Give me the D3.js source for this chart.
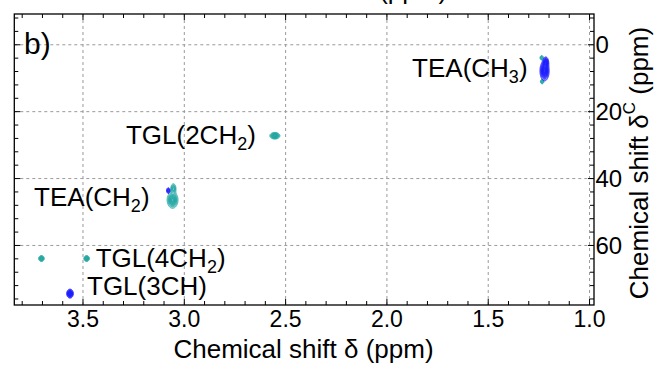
<!DOCTYPE html>
<html>
<head>
<meta charset="utf-8">
<script src="https://cdn.jsdelivr.net/npm/d3@7"></script>
<style>
  html, body { margin: 0; padding: 0; background: #fff; }
  svg { display: block; }
  text { font-family: "Liberation Sans", Arial, Helvetica, sans-serif; fill: #000; }
</style>
</head>
<body>
<svg id="chart" width="654" height="367"></svg>
<script>
// ---- cross peaks of the 1H-13C HSQC spectrum (ppm) ----
// phase: "pos" = CH / CH3 (blue), "neg" = CH2 (teal)
const peakName  = ["TEA(CH3)", "TEA(CH3) a", "TEA(CH3) b", "TEA(CH3) c",
                   "TGL(2CH2)", "TEA(CH2)", "TEA(CH2) tail", "TEA(CH2) d",
                   "TGL(4CH2) a", "TGL(4CH2) b", "TGL(3CH)"];
const peakH     = [1.222, 1.216, 1.236, 1.234, 2.553, 3.058, 3.054, 3.079, 3.705, 3.482, 3.564];
const peakC     = [7.8,   5.2,   3.9,   11.0,  27.2,  46.4,  43.0,  43.6,  63.9,  63.9,  74.4];
const peakSdH   = [0.011, 0.007, 0.005, 0.005, 0.012, 0.013, 0.007, 0.005, 0.007, 0.007, 0.008];
const peakSdC   = [1.45,  0.8,   0.4,   0.4,   0.48,  1.2,   0.8,   0.5,   0.45,  0.45,  0.65];
const peakAmp   = [1.0,   0.7,   0.5,   0.5,   1.0,   1.0,   0.6,   0.5,   0.8,   0.8,   1.0];
const peakPhase = ["pos", "pos", "neg", "neg", "neg", "neg", "neg", "pos", "neg", "neg", "pos"];

// ---- annotations ----
const labelMain = ["TEA(CH", "TGL(2CH", "TEA(CH", "TGL(4CH", "TGL(3CH)"];
const labelSub  = ["3",      "2",       "2",      "2",       ""];
const labelTail = [")",      ")",       ")",      ")",       ""];
const labelH    = [1.222, 2.553, 3.058, 3.482, 3.564];
const labelC    = [7.6,   27.2,  46.4,  63.9,  74.4];

// ---- axes ----
const xTicks = [3.5, 3.0, 2.5, 2.0, 1.5, 1.0];
const yTicks = [0, 20, 40, 60];
const xTitle = "Chemical shift δ (ppm)";
const panelTag = "b)";

// layout
const W = 654, H = 367;
const plot = {left: 14.3, right: 594, top: 14, bottom: 305};
const labelDx   = [-17, -19, -23, 9, 17];
const labelDy   = [7, 8, 6, 8, 1];
const labelAnch = ["end", "end", "end", "start", "start"];

const svg = d3.select("#chart");

const x = d3.scaleLinear().domain([3.839, 0.978]).range([plot.left, plot.right]);
const y = d3.scaleLinear().domain([-9.2, 77.8]).range([plot.top, plot.bottom]);

// clipped title of the neighbouring panel above
svg.append("text")
  .attr("x", 317).attr("y", -1.5)
  .attr("text-anchor", "middle")
  .attr("font-size", 26)
  .text(xTitle);

// grid
const grid = svg.append("g").attr("stroke", "#9a9a9a").attr("stroke-width", 1)
  .attr("stroke-dasharray", "3,3").attr("fill", "none");
grid.selectAll("line.v").data(xTicks).join("line")
  .attr("x1", d => x(d)).attr("x2", d => x(d))
  .attr("y1", plot.top).attr("y2", plot.bottom);
grid.selectAll("line.h").data(yTicks).join("line")
  .attr("x1", plot.left).attr("x2", plot.right)
  .attr("y1", d => y(d)).attr("y2", d => y(d));

// contour field on a fine pixel grid
const RES = 2;
const gw = Math.ceil((plot.right - plot.left) * RES);
const gh = Math.ceil((plot.bottom - plot.top) * RES);
function field(phase) {
  const v = new Float64Array(gw * gh);
  peakH.forEach((h, i) => {
    if (peakPhase[i] !== phase) return;
    const cx = (x(h) - plot.left) * RES, cy = (y(peakC[i]) - plot.top) * RES;
    const sx = Math.abs(x(h + peakSdH[i]) - x(h)) * RES;
    const sy = Math.abs(y(peakC[i] + peakSdC[i]) - y(peakC[i])) * RES;
    const i0 = Math.max(0, Math.floor(cx - 5 * sx)), i1 = Math.min(gw - 1, Math.ceil(cx + 5 * sx));
    const j0 = Math.max(0, Math.floor(cy - 5 * sy)), j1 = Math.min(gh - 1, Math.ceil(cy + 5 * sy));
    for (let j = j0; j <= j1; j++) {
      for (let k = i0; k <= i1; k++) {
        const dx = (k + 0.5 - cx) / sx, dy = (j + 0.5 - cy) / sy;
        v[j * gw + k] += peakAmp[i] * Math.exp(-0.5 * (dx * dx + dy * dy));
      }
    }
  });
  return v;
}
const levels = [0.12, 0.22, 0.32, 0.42, 0.52, 0.62, 0.72, 0.82, 0.92];
const path = d3.geoPath(d3.geoIdentity().scale(1 / RES));
const peaks = svg.append("g").attr("transform", `translate(${plot.left},${plot.top})`);
[["neg", "#1fa6a2", 0.14], ["pos", "#1c1cff", 0.2]].forEach(([ph, col, op]) => {
  const cs = d3.contours().size([gw, gh]).thresholds(levels)(field(ph));
  peaks.append("g").selectAll("path").data(cs).join("path")
    .attr("d", path)
    .attr("fill", col).attr("fill-opacity", op)
    .attr("stroke", col).attr("stroke-width", 0.9);
});

// frame
svg.append("rect")
  .attr("x", plot.left).attr("y", plot.top)
  .attr("width", plot.right - plot.left).attr("height", plot.bottom - plot.top)
  .attr("fill", "none").attr("stroke", "#000").attr("stroke-width", 1.3);

// inward ticks on all four sides
const xMinor = d3.range(38, 9, -1).map(d => d / 10);
const yMinor = d3.range(-8, 77, 4);
const tk = svg.append("g").attr("stroke", "#000").attr("stroke-width", 1);
tk.selectAll("line.xb").data(xMinor).join("line")
  .attr("x1", d => x(d)).attr("x2", d => x(d))
  .attr("y1", plot.bottom).attr("y2", d => plot.bottom - (xTicks.includes(d) ? 6 : 4));
tk.selectAll("line.xt").data(xMinor).join("line")
  .attr("x1", d => x(d)).attr("x2", d => x(d))
  .attr("y1", plot.top).attr("y2", d => plot.top + (xTicks.includes(d) ? 6 : 4));
tk.selectAll("line.yl").data(yMinor).join("line")
  .attr("y1", d => y(d)).attr("y2", d => y(d))
  .attr("x1", plot.left).attr("x2", d => plot.left + (yTicks.includes(d) ? 6 : 4));
tk.selectAll("line.yr").data(yMinor).join("line")
  .attr("y1", d => y(d)).attr("y2", d => y(d))
  .attr("x1", plot.right).attr("x2", d => plot.right - (yTicks.includes(d) ? 6 : 4));

// tick labels
svg.append("g").selectAll("text").data(xTicks).join("text")
  .attr("x", d => x(d)).attr("y", 327)
  .attr("text-anchor", "middle").attr("font-size", 23)
  .text(d => d.toFixed(1));
svg.append("g").selectAll("text").data(yTicks).join("text")
  .attr("x", plot.right + 1.5).attr("y", d => y(d) + 8.5)
  .attr("font-size", 24)
  .text(d => d);

// axis titles
svg.append("text")
  .attr("x", 303.5).attr("y", 358)
  .attr("text-anchor", "middle").attr("font-size", 26)
  .text(xTitle);
const yt = svg.append("text")
  .attr("transform", "translate(648,163) rotate(-90)")
  .attr("text-anchor", "middle").attr("font-size", 26);
yt.append("tspan").text("Chemical shift δ");
yt.append("tspan").attr("font-size", 17).attr("dy", -13).text("C");
yt.append("tspan").attr("dy", 13).text(" (ppm)");

// panel tag
svg.append("text").attr("x", 24).attr("y", 54).attr("font-size", 30).text(panelTag);

// peak annotations
const ann = svg.append("g").attr("font-size", 26);
labelMain.forEach((m, i) => {
  const t = ann.append("text")
    .attr("x", x(labelH[i]) + labelDx[i]).attr("y", y(labelC[i]) + labelDy[i])
    .attr("text-anchor", labelAnch[i]);
  t.append("tspan").text(m);
  if (labelSub[i]) {
    t.append("tspan").attr("font-size", 18).attr("dy", 6).text(labelSub[i]);
    t.append("tspan").attr("dy", -6).text(labelTail[i]);
  }
});
</script>
</body>
</html>
